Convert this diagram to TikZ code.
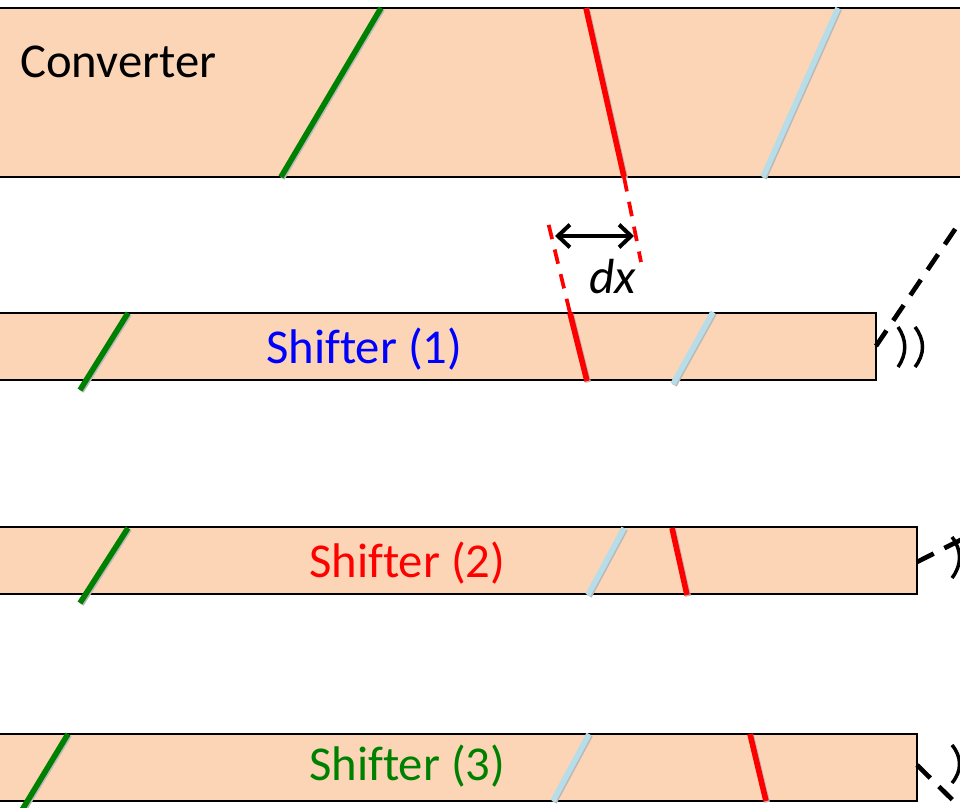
\documentclass[tikz,border=0pt]{standalone}
\usepackage{fontspec}
\setmainfont[Ligatures=NoCommon]{Carlito}
\usetikzlibrary{arrows.meta}
\definecolor{peach}{HTML}{FBD5B5}
\definecolor{ltblue}{HTML}{B7DEE8}
\definecolor{dgreen}{HTML}{008000}
\definecolor{pure red}{HTML}{FF0000}
\definecolor{pure blue}{HTML}{0000FF}
\begin{document}
\begin{tikzpicture}[x=0.75pt,y=-0.75pt,
  box/.style={draw=black,line width=1.8pt,fill=peach},
  tilt/.style={line width=4.2pt,line cap=butt,preaction={draw=gray!55,line width=4.2pt,transform canvas={shift={(0.9pt,-0.9pt)}}}},
  reddash/.style={draw=pure red,line width=2.8pt,dash pattern=on 11pt off 8pt},
  blkdash/.style={draw=black,line width=3.5pt,dash pattern=on 14pt off 9pt},
  wave/.style={draw=black,line width=2.6pt},
  lbl/.style={anchor=base west,inner sep=0pt,font=\fontsize{36.5}{44}\selectfont}]
\useasboundingbox (0,0) rectangle (960,807);
\clip (0,0) rectangle (960,807);
% boxes
\draw[box] (-10,8) rectangle (975,177);
\draw[box] (-10,313) rectangle (876,380);
\draw[box] (-10,527) rectangle (917,594);
\draw[box] (-10,734) rectangle (917,801);
% labels
\node[lbl] (conv) at (20,77) {Converter};
\node[lbl,text=pure blue] (l1) at (266,363) {Shifter (1)};
\node[lbl,text=pure red] (l2) at (309,577) {Shifter (2)};
\node[lbl,text=dgreen] (l3) at (309,780) {Shifter (3)};
% converter lines
\draw[tilt,dgreen] (281,177) -- (381,8);
\draw[tilt,pure red] (586,8) -- (624,177);
\draw[tilt,ltblue] (763,177) -- (838,8);
% shifter 1 lines
\draw[tilt,dgreen] (80,390) -- (128,313);
\draw[tilt,pure red] (570,313) -- (587,381);
\draw[tilt,ltblue] (673,384) -- (713,312);
% shifter 2 lines
\draw[tilt,dgreen] (80,603) -- (128,528);
\draw[tilt,ltblue] (588,595) -- (624,528);
\draw[tilt,pure red] (672,528) -- (687,595);
% shifter 3 lines
\draw[tilt,dgreen] (22,810) -- (68,734);
\draw[tilt,ltblue] (553,801) -- (589,734);
\draw[tilt,pure red] (750,734) -- (766,801);
% red dashed extensions
\coordinate (ra) at (624,177);
\coordinate (rb) at (641,262);
\coordinate (rc) at (570,313);
\coordinate (rd) at (548,222);
\draw[reddash] (ra) -- (rb);
\draw[reddash] (rc) -- (rd);
% dx arrow
\coordinate (dxl) at (555,236);
\coordinate (dxr) at (634,236);
\draw[line width=3pt,{Straight Barb[length=9pt,width=17pt]}-{Straight Barb[length=9pt,width=17pt]}] (dxl) -- (dxr);
\node[lbl,font=\fontsize{37}{44}\selectfont\itshape] (dx) at (589,293) {dx};
% black dashed links
\coordinate (e1) at (876,346);
\coordinate (f1) at (985,185);
\draw[blkdash] (e1) -- (f1);
\coordinate (e2) at (917,562);
\coordinate (f2) at (1000,520);
\draw[blkdash] (e2) -- (f2);
\coordinate (e3) at (917,765);
\coordinate (f3) at (975,822);
\draw[blkdash] (e3) -- (f3);
% waves
\draw[wave] (898,327) .. controls (907,340) and (907,354) .. (898,367);
\draw[wave] (915,327) .. controls (925,340) and (925,354) .. (915,367);
\draw[wave] (952,537) .. controls (962,550) and (962,565) .. (952,578);
\draw[wave] (952,745) .. controls (962,757) and (962,771) .. (952,783);
\end{tikzpicture}
\end{document}
